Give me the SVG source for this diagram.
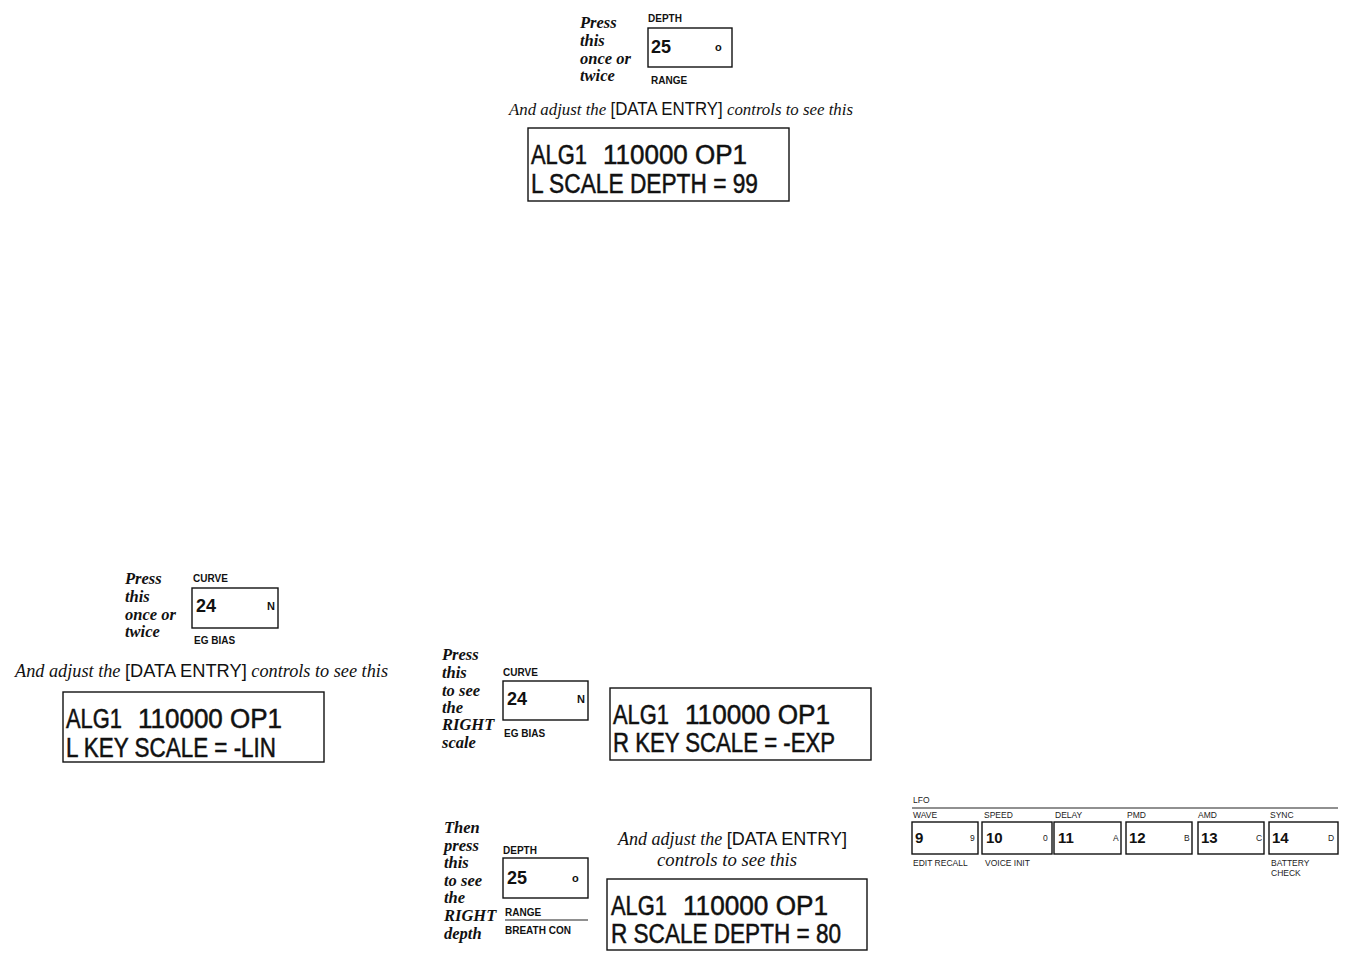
<svg xmlns="http://www.w3.org/2000/svg" width="1349" height="957" viewBox="0 0 1349 957">
<style>
.it{font-family:"Liberation Serif",serif;font-style:italic;font-weight:bold;font-size:16.5px;fill:#111}
.itn{font-family:"Liberation Serif",serif;font-style:italic;font-size:17.5px;fill:#111}
.sn{font-family:"Liberation Sans",sans-serif;font-style:normal;font-weight:normal;fill:#111}
.lbl{font-family:"Liberation Sans",sans-serif;font-weight:bold;font-size:10px;fill:#111}
.num{font-family:"Liberation Sans",sans-serif;font-weight:bold;font-size:18px;fill:#111}
.key{font-family:"Liberation Sans",sans-serif;font-weight:bold;font-size:11px;fill:#111}
.lcd{font-family:"Liberation Sans",sans-serif;font-size:27px;fill:#111;stroke:#111;stroke-width:0.5}
.box{fill:#fff;stroke:#111;stroke-width:1.4}
.sm{font-family:"Liberation Sans",sans-serif;font-size:8.5px;fill:#222}
.lnum{font-family:"Liberation Sans",sans-serif;font-weight:bold;font-size:15px;fill:#111}
.ln{stroke:#222;stroke-width:1.2}
</style>
<rect width="1349" height="957" fill="#fff"/>
<g id="connectors"/>

<g id="top-press">
<text class="it" x="580" y="28">Press</text>
<text class="it" x="580" y="46">this</text>
<text class="it" x="580" y="64">once or</text>
<text class="it" x="580" y="81">twice</text>
</g>
<g id="top-button">
<text class="lbl" x="648" y="22">DEPTH</text>
<rect class="box" x="648" y="28" width="84" height="39"/>
<text class="num" x="651" y="53">25</text>
<text class="key" x="715" y="51">o</text>
<text class="lbl" x="651" y="84">RANGE</text>
</g>
<g id="top-caption">
<text class="itn" x="509" y="115" textLength="344" lengthAdjust="spacingAndGlyphs">And adjust the <tspan class="sn">[DATA ENTRY]</tspan> controls to see this</text>
</g>
<g id="top-lcd">
<rect class="box" x="528" y="128" width="261" height="73"/>
<text class="lcd" x="531" y="164" textLength="56" lengthAdjust="spacingAndGlyphs">ALG1</text>
<text class="lcd" x="603" y="164" textLength="144" lengthAdjust="spacingAndGlyphs">110000 OP1</text>
<text class="lcd" x="531" y="193" textLength="227" lengthAdjust="spacingAndGlyphs">L SCALE DEPTH = 99</text>
</g>

<g id="left-press">
<text class="it" x="125" y="584">Press</text>
<text class="it" x="125" y="602">this</text>
<text class="it" x="125" y="620">once or</text>
<text class="it" x="125" y="637">twice</text>
</g>
<g id="left-button">
<text class="lbl" x="193" y="582">CURVE</text>
<rect class="box" x="192" y="588" width="86" height="40"/>
<text class="num" x="196" y="612">24</text>
<text class="key" x="267" y="610">N</text>
<text class="lbl" x="194" y="644">EG BIAS</text>
</g>
<g id="left-caption">
<text class="itn" x="15" y="677" style="font-size:18.5px" textLength="373" lengthAdjust="spacingAndGlyphs">And adjust the <tspan class="sn">[DATA ENTRY]</tspan> controls to see this</text>
</g>
<g id="left-lcd">
<rect class="box" x="63" y="692" width="261" height="70"/>
<text class="lcd" x="66" y="728" textLength="56" lengthAdjust="spacingAndGlyphs">ALG1</text>
<text class="lcd" x="138" y="728" textLength="144" lengthAdjust="spacingAndGlyphs">110000 OP1</text>
<text class="lcd" x="66" y="757" textLength="210" lengthAdjust="spacingAndGlyphs">L KEY SCALE = -LIN</text>
</g>

<g id="mid-press">
<text class="it" x="442" y="660">Press</text>
<text class="it" x="442" y="678">this</text>
<text class="it" x="442" y="696">to see</text>
<text class="it" x="442" y="713">the</text>
<text class="it" x="442" y="730">RIGHT</text>
<text class="it" x="442" y="748">scale</text>
</g>
<g id="mid-button">
<text class="lbl" x="503" y="676">CURVE</text>
<rect class="box" x="503" y="681" width="85" height="39"/>
<text class="num" x="507" y="705">24</text>
<text class="key" x="577" y="703">N</text>
<text class="lbl" x="504" y="737">EG BIAS</text>
</g>
<g id="mid-lcd">
<rect class="box" x="610" y="688" width="261" height="72"/>
<text class="lcd" x="613" y="724" textLength="56" lengthAdjust="spacingAndGlyphs">ALG1</text>
<text class="lcd" x="685" y="724" textLength="145" lengthAdjust="spacingAndGlyphs">110000 OP1</text>
<text class="lcd" x="613" y="752" textLength="222" lengthAdjust="spacingAndGlyphs">R KEY SCALE = -EXP</text>
</g>

<g id="bottom-press">
<text class="it" x="444" y="833">Then</text>
<text class="it" x="444" y="851">press</text>
<text class="it" x="444" y="868">this</text>
<text class="it" x="444" y="886">to see</text>
<text class="it" x="444" y="903">the</text>
<text class="it" x="444" y="921">RIGHT</text>
<text class="it" x="444" y="939">depth</text>
</g>
<g id="bottom-button">
<text class="lbl" x="503" y="854">DEPTH</text>
<rect class="box" x="503" y="858" width="85" height="40"/>
<text class="num" x="507" y="884">25</text>
<text class="key" x="572" y="882">o</text>
<text class="lbl" x="505" y="916">RANGE</text>
<line class="ln" x1="505" y1="920" x2="588" y2="920"/>
<text class="lbl" x="505" y="934">BREATH  CON</text>
</g>
<g id="bottom-caption">
<text class="itn" x="618" y="845" style="font-size:18.5px" textLength="229" lengthAdjust="spacingAndGlyphs">And adjust the <tspan class="sn">[DATA ENTRY]</tspan></text>
<text class="itn" x="657" y="866" style="font-size:18.5px" textLength="140" lengthAdjust="spacingAndGlyphs">controls to see this</text>
</g>
<g id="bottom-lcd">
<rect class="box" x="607" y="879" width="260" height="71"/>
<text class="lcd" x="611" y="915" textLength="56" lengthAdjust="spacingAndGlyphs">ALG1</text>
<text class="lcd" x="683" y="915" textLength="145" lengthAdjust="spacingAndGlyphs">110000 OP1</text>
<text class="lcd" x="611" y="943" textLength="230" lengthAdjust="spacingAndGlyphs">R SCALE DEPTH = 80</text>
</g>

<g id="lfo-panel">
<text class="sm" x="913" y="803">LFO</text>
<line class="ln" x1="912" y1="808" x2="1338" y2="808"/>
<text class="sm" x="913" y="818">WAVE</text>
<text class="sm" x="984" y="818">SPEED</text>
<text class="sm" x="1055" y="818">DELAY</text>
<text class="sm" x="1127" y="818">PMD</text>
<text class="sm" x="1198" y="818">AMD</text>
<text class="sm" x="1270" y="818">SYNC</text>
<rect class="box" x="912" y="822" width="66" height="32"/>
<rect class="box" x="982" y="822" width="70" height="32"/>
<rect class="box" x="1054" y="822" width="67" height="32"/>
<rect class="box" x="1126" y="822" width="66" height="32"/>
<rect class="box" x="1198" y="822" width="66" height="32"/>
<rect class="box" x="1269" y="822" width="69" height="32"/>
<text class="lnum" x="915" y="843">9</text>
<text class="sm" x="970" y="841">9</text>
<text class="lnum" x="986" y="843">10</text>
<text class="sm" x="1043" y="841">0</text>
<text class="lnum" x="1058" y="843">11</text>
<text class="sm" x="1113" y="841">A</text>
<text class="lnum" x="1129" y="843">12</text>
<text class="sm" x="1184" y="841">B</text>
<text class="lnum" x="1201" y="843">13</text>
<text class="sm" x="1256" y="841">C</text>
<text class="lnum" x="1272" y="843">14</text>
<text class="sm" x="1328" y="841">D</text>
<text class="sm" x="913" y="866">EDIT  RECALL</text>
<text class="sm" x="985" y="866">VOICE  INIT</text>
<text class="sm" x="1271" y="866">BATTERY</text>
<text class="sm" x="1271" y="876">CHECK</text>
</g>
</svg>
